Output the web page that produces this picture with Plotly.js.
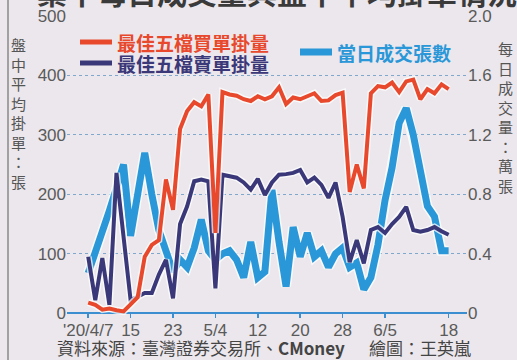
<!DOCTYPE html>
<html><head><meta charset="utf-8">
<script src="https://cdn.plot.ly/plotly-3.0.1.min.js"></script>
<style>html,body{margin:0;padding:0;background:#ebe7ec;} #chart{width:517px;height:360px;}</style>
</head><body><div id="chart"></div>
<script>
// Trading days, 2020/4/7 - 6/18
const dates = ['4/7','4/8','4/9','4/10','4/13','4/14','4/15','4/16','4/17','4/20','4/21','4/22','4/23','4/24','4/27','4/28','4/29','4/30',
  '5/4','5/5','5/6','5/7','5/8','5/11','5/12','5/13','5/14','5/15','5/18','5/19','5/20','5/21','5/22','5/25','5/26','5/27','5/28','5/29',
  '6/1','6/2','6/3','6/4','6/5','6/8','6/9','6/10','6/11','6/12','6/15','6/16','6/17','6/18'];
const tickDates = ['4/7','4/15','4/23','5/4','5/12','5/20','5/28','6/5','6/18'];
const tickLabels = ["'20/4/7",'15','23','5/4','12','20','28','6/5','18'];
// 最佳五檔買單掛量 (張)
const buyOrders = [18,14,6,8,5,3,15,27,95,115,123,225,174,310,340,355,348,368,135,372,368,366,360,357,365,360,
  365,380,352,363,360,365,370,357,358,367,371,204,250,210,370,382,380,388,372,390,393,360,377,370,385,377];
// 最佳五檔賣單掛量 (張)
const sellOrders = [95,22,93,14,236,130,22,28,34,34,65,90,25,150,180,222,225,222,42,233,231,228,220,208,226,199,
  220,233,234,236,241,220,228,216,194,220,162,86,123,84,140,145,135,150,162,179,140,137,140,145,138,132];
// 當日成交張數 (萬張)
const dailyVolume = [0.27,0.40,0.54,0.69,0.84,1.00,0.52,0.80,1.08,0.80,0.56,0.42,0.28,0.36,0.31,0.44,0.63,0.42,0.36,0.40,0.42,0.36,0.24,0.48,0.24,0.28,
  0.83,0.48,0.18,0.58,0.38,0.54,0.38,0.42,0.31,0.40,0.44,0.31,0.34,0.16,0.24,0.46,0.76,0.98,1.28,1.38,1.20,0.96,0.72,0.65,0.42,0.42];
const leftTicks = [0,100,200,300,400,500];
const rightTicks = [0,0.4,0.8,1.2,1.6,2.0];
const rightTickText = ['0','0.4','0.8','1.2','1.6','2.0'];

const RED='#e8482c', NAVY='#3b3879', BLUE='#2a97d8', AXISBLUE='#3b8fd0';
const W=517,H=360,L=67,R=50,T=16,B=42;
const pw=W-L-R, ph=H-T-B;
const px=x=>(x-L)/pw, py=y=>(H-B-y)/ph;
const CJK='"Noto Sans CJK TC", "Noto Sans CJK SC", sans-serif';
const NUM='"Liberation Sans", Arial, sans-serif';
const HALO='rgba(255,255,255,0.75)';

const traces=[
 {x:dates,y:dailyVolume,type:'scatter',mode:'lines',yaxis:'y',line:{color:HALO,width:10,shape:'linear'},hoverinfo:'skip',showlegend:false},
 {x:dates,y:dailyVolume,type:'scatter',mode:'lines',yaxis:'y',name:'當日成交張數',line:{color:BLUE,width:7}},
 {x:dates,y:sellOrders,type:'scatter',mode:'lines',yaxis:'y2',line:{color:HALO,width:7},hoverinfo:'skip',showlegend:false},
 {x:dates,y:sellOrders,type:'scatter',mode:'lines',yaxis:'y2',name:'最佳五檔賣單掛量',line:{color:NAVY,width:4}},
 {x:dates,y:buyOrders,type:'scatter',mode:'lines',yaxis:'y2',line:{color:HALO,width:7},hoverinfo:'skip',showlegend:false},
 {x:dates,y:buyOrders,type:'scatter',mode:'lines',yaxis:'y2',name:'最佳五檔買單掛量',line:{color:RED,width:4}}
];

const ann=[];
function t(text,x,y,opt){ann.push(Object.assign({text:text,x:px(x),y:py(y),xref:'paper',yref:'paper',showarrow:false,xanchor:'left',yanchor:'middle',font:{family:CJK,size:17,color:'#444'}},opt||{}));}
t('集中每日成交量與盤中平均掛單情況',35,-9,{font:{family:CJK,size:30,color:'#3a3a3a',weight:'bold'}});
t('最佳五檔買單掛量',115,42,{font:{family:CJK,size:19,color:RED,weight:'bold'}});
t('最佳五檔賣單掛量',115,63,{font:{family:CJK,size:19,color:NAVY,weight:'bold'}});
t('當日成交張數',335,52,{font:{family:CJK,size:19,color:BLUE,weight:'bold'}});
t('盤<br>中<br>平<br>均<br>掛<br>單<br>：<br>張',18,113,{xanchor:'center',font:{family:CJK,size:15,color:'#555'}});
t('每<br>日<br>成<br>交<br>量<br>：<br>萬<br>張',506,117,{xanchor:'center',font:{family:CJK,size:15,color:'#555'}});
t('資料來源：臺灣證券交易所、<b>CMoney</b>',55,347,{font:{family:CJK,size:17,color:'#444'}});
t('繪圖：王英嵐',367,347,{font:{family:CJK,size:17,color:'#444'}});

const shapes=[
 {type:'line',xref:'paper',yref:'paper',x0:px(8),x1:px(8),y0:py(-5),y1:py(365),line:{color:'#8a8a8a',width:1.5}},
 {type:'line',xref:'paper',yref:'paper',x0:px(80),x1:px(112),y0:py(42),y1:py(42),line:{color:RED,width:5}},
 {type:'line',xref:'paper',yref:'paper',x0:px(80),x1:px(112),y0:py(63),y1:py(63),line:{color:NAVY,width:5}},
 {type:'line',xref:'paper',yref:'paper',x0:px(300),x1:px(332),y0:py(52),y1:py(52),line:{color:BLUE,width:7}}
];

const tickFont={family:NUM,size:17,color:'#5a5a5a'};
const layout={
 width:W,height:H,margin:{l:L,r:R,t:T,b:B,pad:0},
 paper_bgcolor:'#ebe7ec',plot_bgcolor:'#ebe7ec',showlegend:false,
 xaxis:{type:'category',categoryorder:'array',categoryarray:dates,range:[-3,53.6],
   tickmode:'array',tickvals:tickDates,ticktext:tickLabels,ticks:'inside',ticklen:6,tickwidth:1.5,tickcolor:AXISBLUE,
   showgrid:false,zeroline:false,showline:false,tickfont:tickFont,fixedrange:true},
 yaxis:{side:'right',range:[-0.032,2.0],tickmode:'array',tickvals:rightTicks,ticktext:rightTickText,
   showgrid:true,gridcolor:'#7fa8cc',gridwidth:1,griddash:'3px,3px',zeroline:true,zerolinecolor:AXISBLUE,zerolinewidth:2,
   ticks:'',showline:false,tickfont:tickFont,fixedrange:true},
 yaxis2:{side:'left',overlaying:'y',range:[-8,500],tickmode:'array',tickvals:leftTicks,
   showgrid:false,zeroline:false,ticks:'',showline:false,tickfont:tickFont,fixedrange:true},
 annotations:ann,shapes:shapes
};
Plotly.newPlot('chart',traces,layout,{staticPlot:true});
</script></body></html>
